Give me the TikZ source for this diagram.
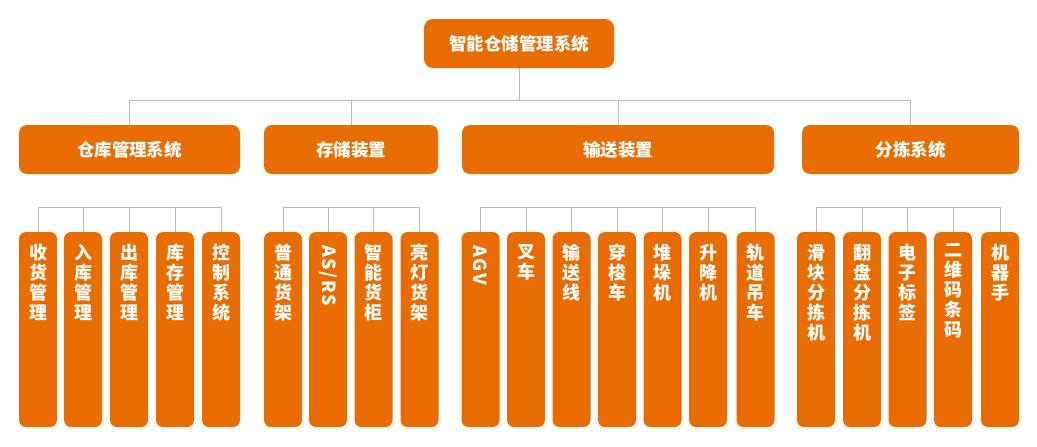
\documentclass[tikz,border=0pt]{standalone}
\usepackage{fontspec}
\newfontfamily\cjk{Noto Sans CJK SC}
\newfontfamily\cjkls{Noto Sans CJK SC}[LetterSpace=10]
\definecolor{org}{HTML}{E86C00}
\definecolor{ln}{HTML}{B8B8B8}
\begin{document}
\begin{tikzpicture}[x=1pt,y=-1pt,
 box/.style={fill=org, rounded corners=8pt, inner sep=0pt, minimum height=49pt, text=white, font=\cjk\bfseries\fontsize{17.5}{20}\selectfont},
 leaf/.style={fill=org, rounded corners=7pt, minimum width=38pt, minimum height=195pt, inner sep=0pt},
 vtext/.style={anchor=north, align=center, text=white, inner sep=0pt, font=\cjk\bfseries\fontsize{18}{20}\selectfont},
 rtext/.style={anchor=west, rotate=-90, text=white, inner sep=0pt, font=\cjkls\bfseries\fontsize{18}{20}\selectfont},
 conn/.style={draw=ln, line width=1pt}]
\useasboundingbox (0,0) rectangle (1037,447);

% root
\node[box, minimum width=190pt, rounded corners=9pt] (root) at (519,43.5) {智能仓储管理系统};

% level 1
\node[box, minimum width=221pt] (g1) at (129.5,149.5) {仓库管理系统};
\node[box, minimum width=174pt] (g2) at (351,149.5) {存储装置};
\node[box, minimum width=312pt] (g3) at (618,149.5) {输送装置};
\node[box, minimum width=217pt] (g4) at (910.5,149.5) {分拣系统};

\coordinate (bus) at (519,100.5);
\draw[conn] (root.south) -- (bus);
\foreach \g in {g1,g2,g3,g4} \draw[conn] (\g.north) |- (bus);

% leaves group A
\node[leaf] (a1) at (38,329.5) {};
\node[leaf] (a2) at (83,329.5) {};
\node[leaf] (a3) at (129,329.5) {};
\node[leaf] (a4) at (175,329.5) {};
\node[leaf] (a5) at (221,329.5) {};
\node[vtext] at ([yshift=-12pt]a1.north) {收\\货\\管\\理};
\node[vtext] at ([yshift=-12pt]a2.north) {入\\库\\管\\理};
\node[vtext] at ([yshift=-12pt]a3.north) {出\\库\\管\\理};
\node[vtext] at ([yshift=-12pt]a4.north) {库\\存\\管\\理};
\node[vtext] at ([yshift=-12pt]a5.north) {控\\制\\系\\统};

% leaves group B
\node[leaf] (b1) at (283,329.5) {};
\node[leaf] (b2) at (328,329.5) {};
\node[leaf] (b3) at (373.5,329.5) {};
\node[leaf] (b4) at (419.5,329.5) {};
\node[vtext] at ([yshift=-12pt]b1.north) {普\\通\\货\\架};
\node[rtext] at ([yshift=-13pt]b2.north) {AS/RS};
\node[vtext] at ([yshift=-12pt]b3.north) {智\\能\\货\\柜};
\node[vtext] at ([yshift=-12pt]b4.north) {亮\\灯\\货\\架};

% leaves group C
\node[leaf] (c1) at (480.5,329.5) {};
\node[leaf] (c2) at (526,329.5) {};
\node[leaf] (c3) at (571.5,329.5) {};
\node[leaf] (c4) at (617,329.5) {};
\node[leaf] (c5) at (662.5,329.5) {};
\node[leaf] (c6) at (708,329.5) {};
\node[leaf] (c7) at (755.5,329.5) {};
\node[rtext] at ([yshift=-13pt]c1.north) {AGV};
\node[vtext] at ([yshift=-12pt]c2.north) {叉\\车};
\node[vtext] at ([yshift=-12pt]c3.north) {输\\送\\线};
\node[vtext] at ([yshift=-12pt]c4.north) {穿\\梭\\车};
\node[vtext] at ([yshift=-12pt]c5.north) {堆\\垛\\机};
\node[vtext] at ([yshift=-12pt]c6.north) {升\\降\\机};
\node[vtext] at ([yshift=-12pt]c7.north) {轨\\道\\吊\\车};

% leaves group D
\node[leaf] (d1) at (816,329.5) {};
\node[leaf] (d2) at (862,329.5) {};
\node[leaf] (d3) at (907.5,329.5) {};
\node[leaf] (d4) at (953,329.5) {};
\node[leaf] (d5) at (1000,329.5) {};
\node[vtext] at ([yshift=-12pt]d1.north) {滑\\块\\分\\拣\\机};
\node[vtext] at ([yshift=-12pt]d2.north) {翻\\盘\\分\\拣\\机};
\node[vtext] at ([yshift=-12pt]d3.north) {电\\子\\标\\签};
\node[vtext] at ([yshift=-12pt]d4.north) {二\\维\\码\\条\\码};
\node[vtext] at ([yshift=-12pt]d5.north) {机\\器\\手};

% level-2 buses
\coordinate (busA) at (129,207.5);
\coordinate (busB) at (351,207.5);
\coordinate (busC) at (618,207.5);
\coordinate (busD) at (908,207.5);
\foreach \n in {a1,a2,a3,a4,a5} \draw[conn] (\n.north) |- (busA);
\foreach \n in {b1,b2,b3,b4} \draw[conn] (\n.north) |- (busB);
\foreach \n in {c1,c2,c3,c4,c5,c6,c7} \draw[conn] (\n.north) |- (busC);
\foreach \n in {d1,d2,d3,d4,d5} \draw[conn] (\n.north) |- (busD);
\end{tikzpicture}
\end{document}
